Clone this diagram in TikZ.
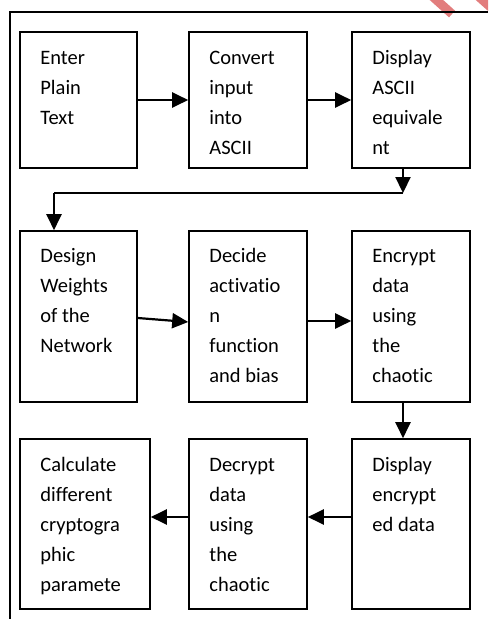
\documentclass[tikz,border=0pt]{standalone}
\usepackage{fontspec}
\setmainfont[Ligatures={NoCommon,NoRare}]{Carlito}
\usetikzlibrary{arrows.meta}
\definecolor{wm}{RGB}{226,125,125}
\tikzset{
  box/.style={draw, line width=1.6pt, rectangle, inner sep=0pt, minimum width=117pt, minimum height=136pt},
  txt/.style={anchor=base west, inner sep=0pt, font=\fontsize{20.5}{30}\selectfont},
  arr/.style={line width=2.2pt, -{Triangle[length=16pt,width=15pt]}},
  conn/.style={line width=2.2pt},
  frame/.style={line width=1.8pt}
}
\newcommand{\boxtext}[1]{\parbox[t]{120pt}{\raggedright #1}}
\begin{document}
\begin{tikzpicture}[x=1pt,y=-1pt]
\useasboundingbox (0,0) rectangle (488,619);
% watermark fragments
\begin{scope}
\clip (0,0) rectangle (488,619);
\draw[wm, line width=9pt] (432,-4) -- (452,14);
\draw[wm, line width=9pt] (478,-4) -- (496,12);
\end{scope}
% outer frame
\draw[frame] (488,12) -- (10,12) -- (10,619);
% boxes
\node[box, minimum width=117pt, minimum height=136pt] (b1) at (78.5,100) {};
\node[box, minimum width=118pt, minimum height=136pt] (b2) at (248,100) {};
\node[box, minimum width=118pt, minimum height=136pt] (b3) at (411,100) {};
\node[box, minimum width=117pt, minimum height=171pt] (b4) at (78.5,316.5) {};
\node[box, minimum width=118pt, minimum height=171pt] (b5) at (248,316.5) {};
\node[box, minimum width=118pt, minimum height=171pt] (b6) at (411,316.5) {};
\node[box, minimum width=130pt, minimum height=170pt] (b7) at (85,524) {};
\node[box, minimum width=118pt, minimum height=170pt] (b8) at (248,524) {};
\node[box, minimum width=118pt, minimum height=170pt] (b9) at (411,524) {};
% texts
\node[txt] (t1) at ([shift={(21,33)}]b1.north west) {\boxtext{Enter\\Plain\\Text}};
\node[txt] (t2) at ([shift={(21,33)}]b2.north west) {\boxtext{Convert\\input\\into\\ASCII}};
\node[txt] (t3) at ([shift={(21,33)}]b3.north west) {\boxtext{Display\\ASCII\\equivale\\nt}};
\node[txt] (t4) at ([shift={(21,32)}]b4.north west) {\boxtext{Design\\Weights\\of the\\Network}};
\node[txt] (t5) at ([shift={(21,32)}]b5.north west) {\boxtext{Decide\\activatio\\n\\function\\and bias}};
\node[txt] (t6) at ([shift={(21,32)}]b6.north west) {\boxtext{Encrypt\\data\\using\\the\\chaotic}};
\node[txt] (t7) at ([shift={(21,33)}]b7.north west) {\boxtext{Calculate\\different\\cryptogra\\phic\\paramete}};
\node[txt] (t8) at ([shift={(21,33)}]b8.north west) {\boxtext{Decrypt\\data\\using\\the\\chaotic}};
\node[txt] (t9) at ([shift={(21,33)}]b9.north west) {\boxtext{Display\\encrypt\\ed data}};
% connectors
\coordinate (c1) at (403,193);
\coordinate (c2) at (54,193);
\draw[arr] (b1.east) -- (b2.west);
\draw[arr] (b2.east) -- (b3.west);
\draw[arr] (b3.south -| c1) -- (c1);
\draw[conn] (c1) -- (c2);
\draw[arr] (c2) -- (b4.north -| c2);
\draw[arr] ([yshift=-1.5]b4.east) -- ([yshift=-5.5]b5.west);
\draw[arr] ([yshift=-4.5]b5.east) -- ([yshift=-4.5]b6.west);
\draw[arr] ([xshift=-8]b6.south) -- ([xshift=-8]b9.north);
\draw[arr] ([yshift=7]b9.west) -- ([yshift=7]b8.east);
\draw[arr] ([yshift=7]b8.west) -- ([yshift=7]b7.east);
\end{tikzpicture}
\end{document}
